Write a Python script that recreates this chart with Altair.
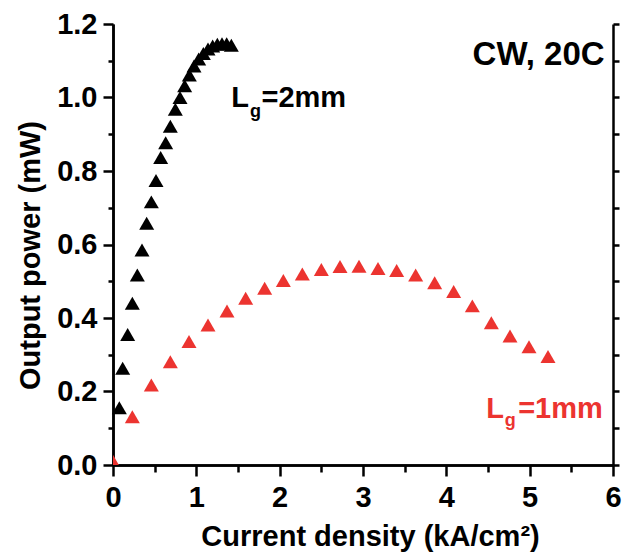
import altair as alt
import pandas as pd

# Light output vs. current density, CW operation at 20C
# Gain length 2 mm
black_x = [0.076, 0.116, 0.176, 0.232, 0.292, 0.348, 0.404, 0.46, 0.516, 0.572,
           0.632, 0.688, 0.748, 0.804, 0.86, 0.916, 0.972, 1.028, 1.084, 1.14,
           1.196, 1.252, 1.308, 1.364, 1.42]
black_y = [0.156, 0.263, 0.355, 0.44, 0.517, 0.585, 0.658, 0.716, 0.774, 0.837,
           0.877, 0.922, 0.968, 1.0, 1.032, 1.061, 1.086, 1.105, 1.12, 1.132,
           1.14, 1.145, 1.146, 1.146, 1.142]

# Gain length 1 mm
red_x = [0.0, 0.232, 0.46, 0.688, 0.912, 1.14, 1.368, 1.592, 1.82, 2.044,
         2.272, 2.5, 2.724, 2.952, 3.18, 3.404, 3.632, 3.86, 4.088, 4.312,
         4.54, 4.764, 4.992, 5.22]
red_y = [0.01, 0.131, 0.218, 0.281, 0.336, 0.381, 0.419, 0.454, 0.481, 0.502,
         0.52, 0.532, 0.54, 0.541, 0.535, 0.529, 0.517, 0.496, 0.472, 0.433,
         0.387, 0.351, 0.322, 0.295]

# Tick values
x_major = [0, 1, 2, 3, 4, 5, 6]
x_minor = [0.5, 1.5, 2.5, 3.5, 4.5, 5.5]
y_major = [0.0, 0.2, 0.4, 0.6, 0.8, 1.0, 1.2]
y_minor = [0.1, 0.3, 0.5, 0.7, 0.9, 1.1]
y_all = [0.0, 0.1, 0.2, 0.3, 0.4, 0.5, 0.6, 0.7, 0.8, 0.9, 1.0, 1.1, 1.2]

# In-plot annotations (curve labels with subscript g)
note_text = ["L", "g", "=2mm", "L", "g", "=1mm"]
note_x = [1.42, 1.645, 1.782, 4.48, 4.70, 4.862]
note_y = [0.974, 0.948, 0.974, 0.127, 0.106, 0.127]
note_size = [29, 18, 29, 29, 18, 29]
note_color = ["#000000", "#000000", "#000000", "#ec3430", "#ec3430", "#ec3430"]

cond_text = ["CW, 20C"]
cond_x = [5.9]
cond_y = [1.088]

FONT = "Liberation Sans"
RED = "#ec3430"

black_df = pd.DataFrame({"j": black_x, "p": black_y})
red_df = pd.DataFrame({"j": red_x, "p": red_y})
note_df = pd.DataFrame({"t": note_text, "ax": note_x, "ay": note_y,
                        "fs": note_size, "c": note_color})
cond_df = pd.DataFrame({"t": cond_text, "ax": cond_x, "ay": cond_y})

x_scale = alt.Scale(domain=[0, 6], nice=False, zero=False)
y_scale = alt.Scale(domain=[0, 1.2], nice=False, zero=False)

common = dict(domainColor="black", domainWidth=2.5, tickColor="black",
              tickWidth=2.5, grid=False, labelFont=FONT, labelFontWeight="bold",
              labelFontSize=29, labelColor="black", labelFlush=False,
              labelOverlap=False, labelBound=False)

x_major_axis = alt.Axis(orient="bottom", values=x_major, format="d",
                        tickSize=11, labelPadding=7,
                        title="Current density (kA/cm²)", titleFont=FONT,
                        titleFontWeight="bold", titleFontSize=29,
                        titleColor="black", titleX=257, titleY=80,
                        titleAlign="center", titleBaseline="alphabetic",
                        **common)
x_minor_axis = alt.Axis(orient="bottom", values=x_minor, tickSize=7,
                        labels=False, title=None, **common)
y_major_axis = alt.Axis(orient="left", values=y_major, format=".1f",
                        tickSize=10, labelPadding=6,
                        title="Output power (mW)", titleFont=FONT,
                        titleFontWeight="bold", titleFontSize=29,
                        titleColor="black", titleX=-74, titleY=231,
                        titleAlign="center", titleBaseline="alphabetic",
                        titleAngle=270, **common)
y_minor_axis = alt.Axis(orient="left", values=y_minor, tickSize=5,
                        labels=False, title=None, **common)
y_right_axis = alt.Axis(orient="right", values=y_all, tickSize=6,
                        labels=False, title=None, **common)

black_layer = alt.Chart(black_df).mark_point(
    shape="triangle-up", filled=True, size=225, opacity=1, color="black"
).encode(
    x=alt.X("j:Q", scale=x_scale, axis=x_major_axis),
    y=alt.Y("p:Q", scale=y_scale, axis=y_major_axis),
)

red_layer = alt.Chart(red_df).mark_point(
    shape="triangle-up", filled=True, size=225, opacity=1, color=RED, clip=True
).encode(
    x=alt.X("j:Q", scale=x_scale, axis=x_minor_axis),
    y=alt.Y("p:Q", scale=y_scale, axis=y_minor_axis),
)

cond_layer = alt.Chart(cond_df).mark_text(
    font=FONT, fontWeight="bold", fontSize=33, align="right",
    baseline="alphabetic", color="black"
).encode(
    x=alt.X("ax:Q", scale=x_scale, axis=None),
    y=alt.Y("ay:Q", scale=y_scale, axis=y_right_axis),
    text="t:N",
)

note_layer = alt.Chart(note_df).mark_text(
    font=FONT, fontWeight="bold", align="left", baseline="alphabetic"
).encode(
    x=alt.X("ax:Q", scale=x_scale, axis=None),
    y=alt.Y("ay:Q", scale=y_scale, axis=None),
    text="t:N",
    size=alt.Size("fs:Q", scale=None),
    color=alt.Color("c:N", scale=None),
)

chart = alt.layer(
    black_layer, red_layer, cond_layer, note_layer
).resolve_axis(
    x="independent", y="independent"
).properties(
    width=500, height=441,
    autosize=alt.AutoSizeParams(type="none"),
    padding={"left": 113, "top": 24, "right": 11, "bottom": 95},
    background="white",
).configure_view(stroke=None)

chart.save("out.html", embed_options={"renderer": "svg", "actions": False})
